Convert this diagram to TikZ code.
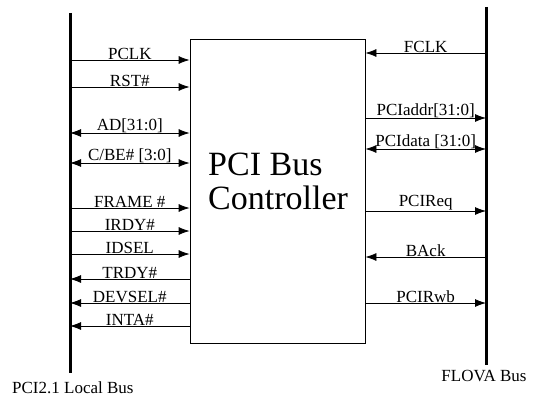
\documentclass[tikz,border=0pt]{standalone}
\usepackage{fontspec}
\setmainfont{Liberation Serif}
\usetikzlibrary{arrows.meta, positioning}

\begin{document}
\begin{tikzpicture}[
  x=1pt, y=-1pt,
  busline/.style={line width=3pt},
  ctrlbox/.style={rectangle, draw, line width=0.8pt, minimum width=175pt,
                  minimum height=304pt, inner sep=0pt},
  sig/.style={line width=0.8pt, -{Latex[length=11pt,width=8pt]}},
  sigboth/.style={line width=0.8pt,
                  {Latex[length=11pt,width=8pt]}-{Latex[length=11pt,width=8pt]}},
  lbl/.style={above, inner sep=0.2pt, font=\fontsize{17}{18}\selectfont},
  busname/.style={inner sep=0pt, font=\fontsize{17}{18}\selectfont}
]
  \useasboundingbox (0,0) rectangle (534,396);

  % the two buses
  \coordinate (lbtop) at (70,13);
  \coordinate (lbbot) at (70,373);
  \coordinate (rbtop) at (486,7);
  \coordinate (rbbot) at (486,365);
  \draw[busline] (lbtop) -- (lbbot);
  \draw[busline] (rbtop) -- (rbbot);

  % controller
  \node[ctrlbox] (ctrl) at (277.5,191) {};
  \node[align=left, anchor=west, inner sep=0pt, font=\fontsize{34}{34}\selectfont]
    (title) at (208,181) {PCI Bus\\Controller};

  % local bus side
  \coordinate (pclk) at (70,60);
  \coordinate (rst) at (70,87);
  \coordinate (ad) at (70,133);
  \coordinate (cbe) at (70,163);
  \coordinate (frame) at (70,208);
  \coordinate (irdy) at (70,231);
  \coordinate (idsel) at (70,254);
  \coordinate (trdy) at (70,279);
  \coordinate (devsel) at (70,303);
  \coordinate (inta) at (70,326);

  \draw[sig] (pclk) -- node[lbl] {PCLK} (pclk -| ctrl.west);
  \draw[sig] (rst) -- node[lbl] {RST\#} (rst -| ctrl.west);
  \draw[sigboth] (ad) -- node[lbl] {AD[31:0]} (ad -| ctrl.west);
  \draw[sigboth] (cbe) -- node[lbl] {C/BE\# [3:0]} (cbe -| ctrl.west);
  \draw[sig] (frame) -- node[lbl] {FRAME \#} (frame -| ctrl.west);
  \draw[sig] (irdy) -- node[lbl] {IRDY\#} (irdy -| ctrl.west);
  \draw[sig] (idsel) -- node[lbl] {IDSEL} (idsel -| ctrl.west);
  \draw[sig] (trdy -| ctrl.west) -- node[lbl] {TRDY\#} (trdy);
  \draw[sig] (devsel -| ctrl.west) -- node[lbl] {DEVSEL\#} (devsel);
  \draw[sig] (inta -| ctrl.west) -- node[lbl] {INTA\#} (inta);

  % FLOVA bus side
  \coordinate (fclk) at (486,53);
  \coordinate (paddr) at (486,118);
  \coordinate (pdata) at (486,149);
  \coordinate (preq) at (486,211);
  \coordinate (back) at (486,257);
  \coordinate (prwb) at (486,303);

  \draw[sig] (fclk) -- node[lbl] {FCLK} (fclk -| ctrl.east);
  \draw[sig] (paddr -| ctrl.east) -- node[lbl] {PCIaddr[31:0]} (paddr);
  \draw[sigboth] (pdata -| ctrl.east) -- node[lbl] {PCIdata [31:0]} (pdata);
  \draw[sig] (preq -| ctrl.east) -- node[lbl] {PCIReq} (preq);
  \draw[sig] (back) -- node[lbl] {BAck} (back -| ctrl.east);
  \draw[sig] (prwb -| ctrl.east) -- node[lbl] {PCIRwb} (prwb);

  % bus names
  \node[busname, anchor=base west] (lbname) at (12,393) {PCI2.1 Local Bus};
  \node[busname, anchor=base] (rbname) at (484,381) {FLOVA Bus};
\end{tikzpicture}
\end{document}
